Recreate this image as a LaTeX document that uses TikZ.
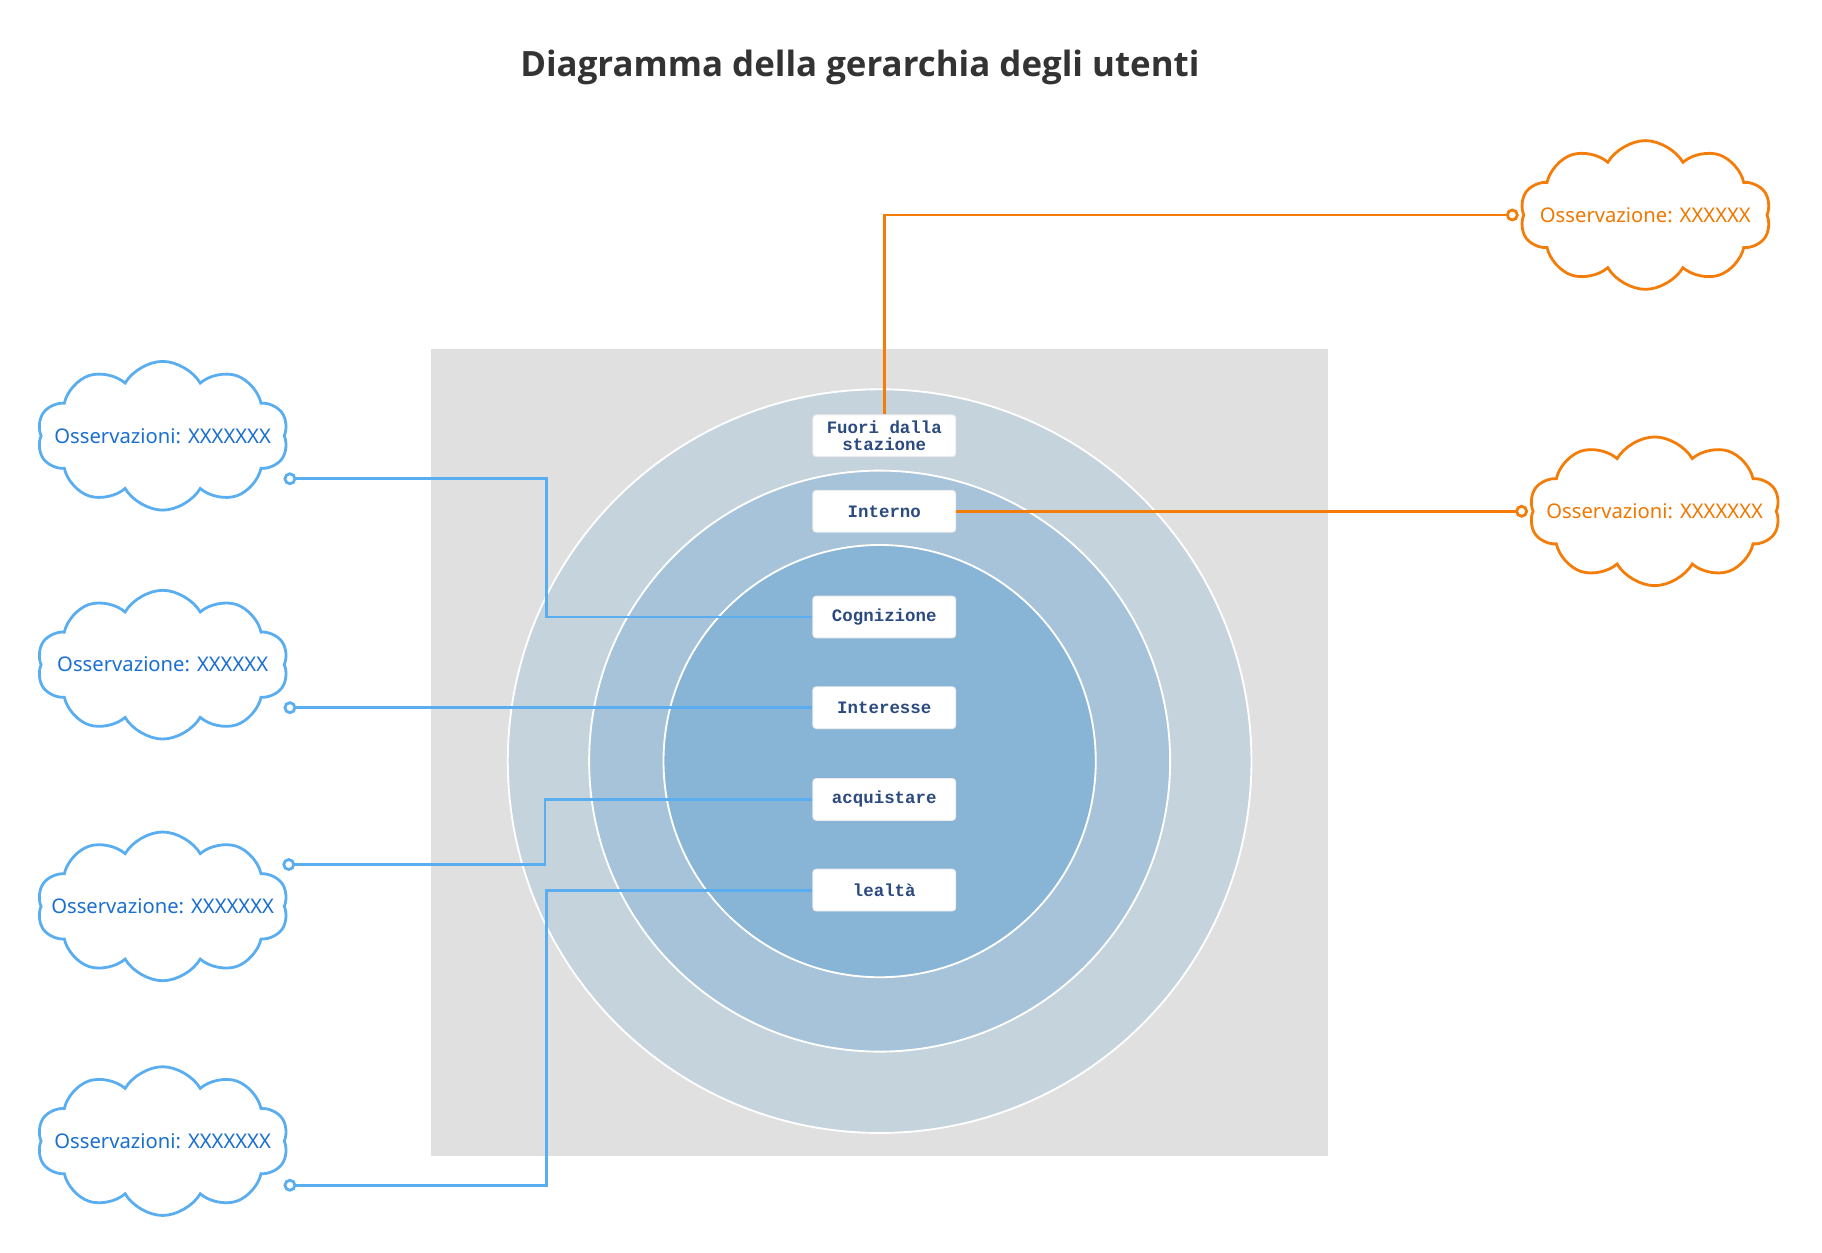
\documentclass[tikz,border=0pt]{standalone}
\usepackage{fontspec}
\setmainfont{Noto Sans}
\newfontfamily\titlefont{Open Sans}
\newfontfamily\boxfont{Liberation Mono}
\usetikzlibrary{shapes.symbols,arrows.meta}
\definecolor{bl}{HTML}{5AAEF0}
\definecolor{blt}{HTML}{1A6FD0}
\definecolor{og}{HTML}{F47D0A}
\definecolor{ogt}{HTML}{F07800}
\definecolor{bx}{HTML}{2B4A80}
\definecolor{r1}{HTML}{C5D3DD}
\definecolor{r2}{HTML}{A6C3D9}
\definecolor{r3}{HTML}{88B4D5}
\begin{document}
\begin{tikzpicture}[x=0.5pt,y=-0.5pt,
  lbl/.style={draw=white!85!gray,fill=white,rounded corners=1.5pt,minimum width=61.5pt,minimum height=18pt,inner sep=0pt,font=\boxfont\bfseries\fontsize{7.5}{8}\selectfont,text=bx,align=center},
  cl/.style={cloud,cloud puffs=10,cloud puff arc=120,aspect=1.7,draw=#1,line width=1.2pt,fill=white,minimum width=108pt,minimum height=64pt,inner sep=0pt},
  ct/.style={font=\fontsize{8.7}{10}\selectfont,inner sep=0pt},
  con/.style={draw=#1,line width=1.2pt,-{Circle[open,length=5.5pt,width=5.5pt]}}]
\useasboundingbox (0,0) rectangle (1568,1078);
\node[font=\titlefont\bfseries\fontsize{15}{17}\selectfont,text=black!80] (title) at (740,58) {Diagramma della gerarchia degli utenti};
\fill[black!12] (371,300) rectangle (1143,995);
\filldraw[fill=r1,draw=white,line width=0.8pt] (757,655) circle[radius=160pt];
\filldraw[fill=r2,draw=white,line width=0.8pt] (757,655) circle[radius=125pt];
\filldraw[fill=r3,draw=white,line width=0.8pt] (757,655) circle[radius=93pt];
\node[lbl] (b1) at (761,375) {Fuori dalla\\[-1pt]stazione};
\node[lbl] (b2) at (761,440) {Interno};
\node[lbl] (b3) at (761,531) {Cognizione};
\node[lbl] (b4) at (761,609) {Interesse};
\node[lbl] (b5) at (761,688) {acquistare};
\node[lbl] (b6) at (761,766) {lealtà};
\node[cl=bl] (c1) at (140,375) {};
\node[cl=bl] (c2) at (140,572) {};
\node[cl=bl] (c3) at (140,780) {};
\node[cl=bl] (c4) at (140,982) {};
\node[cl=og] (o1) at (1416,185) {};
\node[cl=og] (o2) at (1424,440) {};
\node[ct,text=blt] (t1) at (c1) {Osservazioni: XXXXXXX};
\node[ct,text=blt] (t2) at (c2) {Osservazione: XXXXXX};
\node[ct,text=blt] (t3) at (c3) {Osservazione: XXXXXXX};
\node[ct,text=blt] (t4) at (c4) {Osservazioni: XXXXXXX};
\node[ct,text=ogt] (t5) at (o1) {Osservazione: XXXXXX};
\node[ct,text=ogt] (t6) at (o2) {Osservazioni: XXXXXXX};
\coordinate (e1) at (244,412);
\coordinate (e2) at (244,609);
\coordinate (e3) at (243,744);
\coordinate (e4) at (244,1020);
\coordinate (f1) at (1307,185);
\coordinate (f2) at (1315,440);
\draw[con=bl] (b3.west) -- (470,531) -- (470,412) -- (e1);
\draw[con=bl] (b4.west) -- (e2);
\draw[con=bl] (b5.west) -- (469,688) -- (469,744) -- (e3);
\draw[con=bl] (b6.west) -- (470,766) -- (470,1020) -- (e4);
\draw[con=og] (b1.north) -- (761,185) -- (f1);
\draw[con=og] (b2.east) -- (f2);
\end{tikzpicture}
\end{document}
